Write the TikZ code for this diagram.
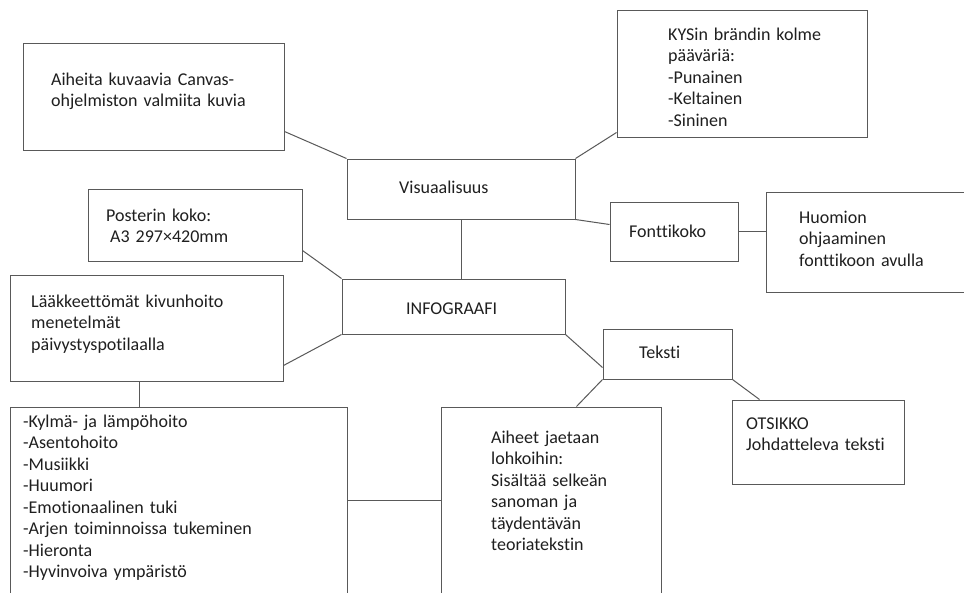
\documentclass[tikz,border=0pt]{standalone}
\usepackage{fontspec}
\setmainfont[Ligatures={NoCommon}]{Carlito}
\usetikzlibrary{calc}
\tikzset{
  box/.style={draw=boxgray, line width=1pt, rectangle, inner sep=0pt},
  txt/.style={anchor=base west, inner sep=0pt, text width=300pt, align=left, text=textgray,
    font=\fontsize{18}{21.5}\selectfont},
  link/.style={draw=boxgray, line width=1pt}
}
\definecolor{boxgray}{HTML}{595959}
\definecolor{textgray}{HTML}{1F1F1F}
\begin{document}
\begin{tikzpicture}[x=1pt,y=-1pt]
\clip (0,0) rectangle (964,592);
\fill[white] (0,0) rectangle (964,592);
% boxes
\node[box, minimum width=261pt, minimum height=107pt] (A) at (153.5,96.5) {};
\node[box, minimum width=228pt, minimum height=60pt] (Vis) at (461,189) {};
\node[box, minimum width=250pt, minimum height=127pt] (KYS) at (742,73.5) {};
\node[box, minimum width=128pt, minimum height=59pt] (Font) at (674,231.5) {};
\node[box, minimum width=209pt, minimum height=100pt] (Huom) at (870.5,242) {};
\node[box, minimum width=214pt, minimum height=72pt] (Post) at (195,225) {};
\node[box, minimum width=223pt, minimum height=55pt] (Info) at (453.5,306.5) {};
\node[box, minimum width=273pt, minimum height=106pt] (Laak) at (146.5,328) {};
\node[box, minimum width=337pt, minimum height=203pt] (List) at (178.5,508.5) {};
\node[box, minimum width=220pt, minimum height=203pt] (Aih) at (551,508.5) {};
\node[box, minimum width=129pt, minimum height=50pt] (Teks) at (667.5,354) {};
\node[box, minimum width=172pt, minimum height=84pt] (Ots) at (818,442) {};
% texts
\node[txt] (tA) at (51,85) {Aiheita kuvaavia Canvas-\\ohjelmiston valmiita kuvia};
\node[txt] (tVis) at (399,193) {Visuaalisuus};
\node[txt] (tKYS) at (668,40) {KYSin brändin kolme\\pääväriä:\\-Punainen\\-Keltainen\\-Sininen};
\node[txt] (tFont) at (629,237) {Fonttikoko};
\node[txt] (tHuom) at (799,223) {Huomion\\ohjaaminen\\fonttikoon avulla};
\node[txt] (tPost) at (106,221) {Posterin koko:\\\hspace*{4pt}A3 297×420mm};
\node[txt] (tInfo) at (406,314) {INFOGRAAFI};
\node[txt] (tLaak) at (31,307) {Lääkkeettömät kivunhoito\\menetelmät\\päivystyspotilaalla};
\node[txt] (tList) at (23,427) {-Kylmä- ja lämpöhoito\\-Asentohoito\\-Musiikki\\-Huumori\\-Emotionaalinen tuki\\-Arjen toiminnoissa tukeminen\\-Hieronta\\-Hyvinvoiva ympäristö};
\node[txt] (tAih) at (491,443) {Aiheet jaetaan\\lohkoihin:\\Sisältää selkeän\\sanoman ja\\täydentävän\\teoriatekstin};
\node[txt] (tTeks) at (639,358) {Teksti};
\node[txt] (tOts) at (746,429) {OTSIKKO\\Johdatteleva teksti};
% connectors
\coordinate (listR) at ([yshift=-94pt]List.north east);
\draw[link] ([yshift=19pt]A.south east) -- (Vis.north west);
\draw[link] (Vis.north east) -- ([yshift=5pt]KYS.south west);
\draw[link] (Vis.south east) -- ([yshift=-23pt]Font.north west);
\draw[link] (Font.east) -- (Huom.west |- Font.east);
\draw[link] (Vis.south) -- (Vis.south |- Info.north);
\draw[link] ([yshift=11pt]Post.south east) -- (Info.north west);
\draw[link] ([yshift=16pt]Laak.south east) -- (Info.south west);
\draw[link] ([xshift=130pt]Laak.south west) -- ([xshift=130pt]List.north west);
\draw[link] (listR) -- (Aih.west |- listR);
\draw[link] (Info.south east) -- ([yshift=12pt]Teks.south west);
\draw[link] (Teks.south west) -- ([xshift=-85pt]Aih.north east);
\draw[link] (Teks.south east) -- ([xshift=28pt]Ots.north west);
\end{tikzpicture}
\end{document}
